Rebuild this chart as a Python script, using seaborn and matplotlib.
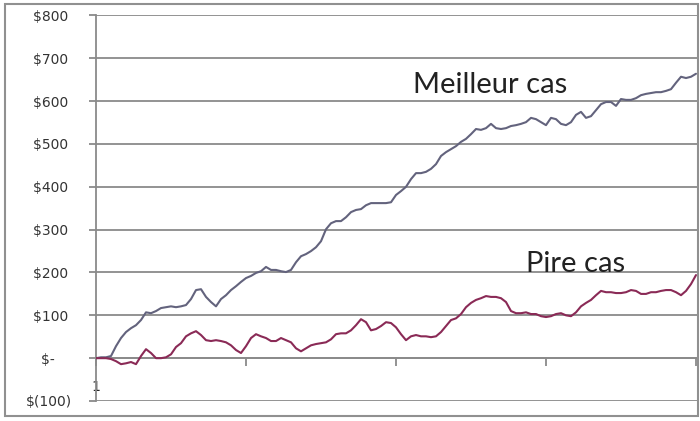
import matplotlib
matplotlib.use("Agg")
import matplotlib.pyplot as plt
import matplotlib.patches as mpatches
import seaborn as sns
import pandas as pd
import numpy as np

# ---- data ----
best_case = [0, 2, 2, 5, 28, 47, 61, 70, 77, 89,
             107, 105, 110, 117, 119, 121, 119, 121, 124, 138,
             159, 161, 143, 131, 121, 138, 147, 159, 168, 178,
             187, 192, 199, 203, 213, 206, 206, 203, 201, 206,
             224, 238, 243, 250, 259, 273, 301, 315, 320, 320,
             329, 341, 346, 348, 357, 362, 362, 362, 362, 364,
             381, 390, 400, 418, 432, 432, 435, 442, 453, 472,
             481, 488, 495, 505, 512, 523, 535, 533, 537, 547,
             537, 535, 537, 542, 544, 547, 551, 561, 558, 551,
             544, 561, 558, 547, 544, 551, 568, 575, 561, 565,
             579, 593, 598, 598, 589, 605, 603, 603, 607, 614,
             617, 619, 621, 621, 624, 628, 643, 657, 654, 657,
             664]
worst_case = [0, 0, 0, -2, -7, -14, -12, -9, -14, 5,
              21, 12, 0, 0, 2, 9, 26, 35, 51, 58,
              63, 54, 42, 40, 42, 40, 37, 30, 19, 12,
              28, 47, 56, 51, 47, 40, 40, 47, 42, 37,
              23, 16, 23, 30, 33, 35, 37, 44, 56, 58,
              58, 65, 77, 91, 84, 65, 68, 75, 84, 82,
              72, 56, 42, 51, 54, 51, 51, 49, 51, 61,
              75, 89, 93, 103, 119, 129, 136, 140, 145, 143,
              143, 140, 131, 110, 105, 105, 107, 103, 103, 98,
              96, 98, 103, 105, 100, 98, 107, 121, 129, 136,
              147, 157, 154, 154, 152, 152, 154, 159, 157, 150,
              150, 154, 154, 157, 159, 159, 154, 147, 157, 173,
              194]
periods = list(range(1, len(best_case) + 1))
y_ticks = [-100, 0, 100, 200, 300, 400, 500, 600, 700, 800]
y_tick_labels = ["$(100)", "$-    ", "$100 ", "$200 ", "$300 ", "$400 ",
                 "$500 ", "$600 ", "$700 ", "$800 "]
x_ticks = [1, 31, 61, 91, 121]
x_tick_labels = ["1", "", "", "", ""]
series_names = ["Meilleur cas", "Pire cas"]
label_pos = [(64.4, 619), (87.1, 202)]

df = pd.DataFrame({
    "period": periods * 2,
    "value": best_case + worst_case,
    "series": [series_names[0]] * len(best_case) + [series_names[1]] * len(worst_case),
})

sns.set_style("white")
plt.rcParams["font.family"] = ["DejaVu Sans"]

fig = plt.figure(figsize=(7.0, 4.21), dpi=100)
ax = fig.add_axes([96 / 700, 1 - 401 / 421, (697 - 96) / 700, (401 - 15.5) / 421])

grid_c = "#8a8a8a"
palette = {series_names[0]: "#63637d", series_names[1]: "#8a2a56"}

for yv in y_ticks:
    ax.axhline(yv, color=grid_c, lw=1.3, zorder=0)

sns.lineplot(data=df, x="period", y="value", hue="series", palette=palette,
             linewidth=1.5, legend=False, ax=ax, zorder=3)

ax.set_xlim(1, 121.2)
ax.set_ylim(-100, 800)
ax.set_yticks(y_ticks)
ax.set_yticklabels(y_tick_labels, fontsize=10, color="#333333")
ax.set_xticks(x_ticks)
ax.set_xticklabels(x_tick_labels, fontsize=10, color="#333333")
ax.set_xlabel("")
ax.set_ylabel("")

for s in ["top", "right"]:
    ax.spines[s].set_visible(False)
ax.spines["left"].set_color(grid_c)
ax.spines["left"].set_linewidth(1.3)
ax.spines["bottom"].set_position(("data", 0))
ax.spines["bottom"].set_color(grid_c)
ax.spines["bottom"].set_linewidth(1.3)
ax.tick_params(axis="y", which="both", left=True, length=5, width=1.3,
               color=grid_c, pad=12, direction="out")
ax.tick_params(axis="x", which="both", bottom=True, length=6, width=1.3,
               color=grid_c, pad=10, direction="out")

for name, (lx, ly) in zip(series_names, label_pos):
    ax.text(lx, ly, name, fontsize=21, family=["Lato", "DejaVu Sans"],
            color="#222222", ha="left", va="baseline", zorder=5)

border = mpatches.Rectangle((5 / 700, 1 - 416 / 421), (698 - 5) / 700, (416 - 4) / 421,
                            transform=fig.transFigure, fill=False,
                            edgecolor="#909090", linewidth=1.5)
fig.patches.append(border)

fig.savefig("out.png", dpi=100)
